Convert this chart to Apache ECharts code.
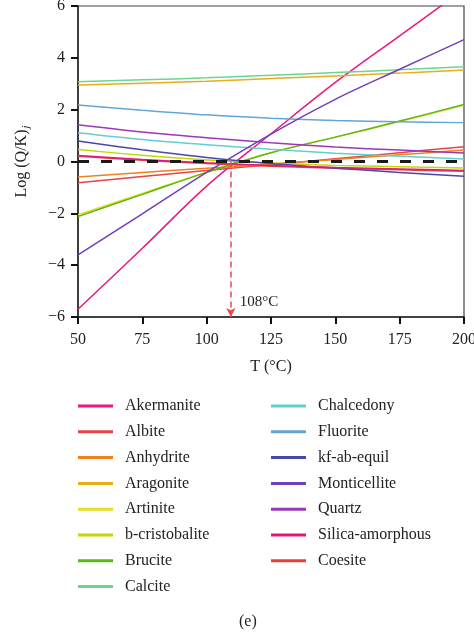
<!DOCTYPE html>
<html>
<head>
<meta charset="utf-8">
<script src="https://cdn.jsdelivr.net/npm/echarts@6/dist/echarts.min.js"></script>
<style>
  html, body { margin: 0; padding: 0; background: #fff; }
  #main { width: 474px; height: 639px; }
</style>
</head>
<body>
<div id="main"></div>
<script>
var temps = [50, 75, 100, 125, 150, 175, 200]
var xTicks = [50, 75, 100, 125, 150, 175, 200]
var yTicks = [-6, -4, -2, 0, 2, 4, 6]

var akermanite = [-5.7, -3.35, -0.95, 1.07, 3.05, 4.85, 6.65]
var albite = [-0.82, -0.58, -0.35, -0.12, 0.11, 0.34, 0.57]
var anhydrite = [-0.6, -0.42, -0.26, -0.1, 0.08, 0.26, 0.44]
var aragonite = [2.95, 3.02, 3.1, 3.2, 3.3, 3.41, 3.53]
var artinite = [-2.05, -1.23, -0.41, 0.34, 0.94, 1.54, 2.18]
var bCristobalite = [0.46, 0.24, 0.06, -0.06, -0.15, -0.2, -0.25]
var brucite = [-2.12, -1.27, -0.42, 0.34, 0.94, 1.56, 2.2]
var calcite = [3.08, 3.15, 3.23, 3.33, 3.43, 3.54, 3.66]
var chalcedony = [1.11, 0.85, 0.65, 0.47, 0.32, 0.2, 0.1]
var fluorite = [2.18, 1.98, 1.8, 1.67, 1.58, 1.53, 1.5]
var kfAbEquil = [0.79, 0.45, 0.15, -0.08, -0.26, -0.42, -0.57]
var monticellite = [-3.6, -2.02, -0.42, 1.06, 2.4, 3.56, 4.7]
var quartz = [1.42, 1.14, 0.92, 0.72, 0.56, 0.44, 0.33]
var silicaAmorphous = [0.23, 0.08, -0.05, -0.15, -0.23, -0.29, -0.35]
var coesite = [0.2, 0.05, -0.08, -0.18, -0.26, -0.32, -0.38]

var crossT = 109.4 // where the dashed red arrow sits
var crossLabel = '108°C'

var names = ['Akermanite', 'Albite', 'Anhydrite', 'Aragonite', 'Artinite', 'b-cristobalite', 'Brucite', 'Calcite',
  'Chalcedony', 'Fluorite', 'kf-ab-equil', 'Monticellite', 'Quartz', 'Silica-amorphous', 'Coesite']
var values = [akermanite, albite, anhydrite, aragonite, artinite, bCristobalite, brucite, calcite,
  chalcedony, fluorite, kfAbEquil, monticellite, quartz, silicaAmorphous, coesite]
var colors = ['#e8197f', '#e84444', '#f0801e', '#e8ae1c', '#e6dc22', '#c2d800', '#5cb814', '#6cd690',
  '#62cfd0', '#62a6d8', '#4848a8', '#7040b8', '#9c38b8', '#e01880', '#e8403a']

// draw order: coesite / artinite under their look-alikes
var drawOrder = [14, 4, 0, 1, 2, 3, 5, 6, 7, 8, 9, 10, 11, 12, 13]

var font = 'Liberation Serif'
var series = drawOrder.map(function (i) {
  return {
    name: names[i],
    type: 'line',
    smooth: 0.35,
    symbol: 'none',
    z: 3,
    lineStyle: { width: 1.5, color: colors[i] },
    itemStyle: { color: colors[i] },
    data: temps.map(function (t, k) { return [t, values[i][k]] })
  }
})

// zero line + arrow marker
series.push({
  name: 'ref',
  type: 'line',
  data: [],
  z: 10,
  silent: true,
  markLine: {
    silent: true,
    symbol: ['none', 'none'],
    label: { show: false },
    data: [
      { yAxis: 0, lineStyle: { color: '#1a1a1a', width: 2.8, type: [11, 12] } }
    ]
  }
})
series.push({
  name: 'arrow',
  type: 'line',
  data: [],
  z: 11,
  silent: true,
  markLine: {
    silent: true,
    symbol: ['none', 'arrow'],
    symbolSize: [7, 9],
    label: { show: false },
    data: [[
      { coord: [crossT, 0], lineStyle: { color: '#e84a4a', width: 1.5, type: [6, 4] } },
      { coord: [crossT, -6] }
    ]]
  },
  markPoint: {
    symbol: 'circle',
    symbolSize: 0,
    label: {
      show: true,
      formatter: crossLabel,
      position: 'right',
      offset: [4, -15],
      color: '#222',
      fontFamily: font,
      fontSize: 15
    },
    data: [{ coord: [crossT, -6] }]
  }
})

var myChart = echarts.init(document.getElementById('main'))
var legendText = { fontFamily: font, fontSize: 16, color: '#222', lineHeight: 16, padding: [0, 0, 0, 7] }

var option = {
  animation: false,
  title: {
    text: '(e)',
    left: 234,
    top: 609,
    textStyle: { fontFamily: font, fontSize: 16, fontWeight: 'normal', color: '#222' }
  },
  grid: {
    left: 78,
    right: 10,
    top: 6,
    bottom: 322,
    outerBoundsMode: 'none',
    show: true,
    borderColor: '#444',
    borderWidth: 1.2
  },
  legend: [{
    data: names.slice(0, 8),
    orient: 'vertical',
    left: 78,
    top: 398,
    padding: 0,
    itemWidth: 35,
    itemHeight: 3,
    itemGap: 9.8,
    icon: 'rect',
    textStyle: legendText
  }, {
    data: names.slice(8),
    orient: 'vertical',
    left: 271,
    top: 398,
    padding: 0,
    itemWidth: 35,
    itemHeight: 3,
    itemGap: 9.8,
    icon: 'rect',
    textStyle: legendText
  }],
  xAxis: {
    type: 'value',
    min: xTicks[0],
    max: xTicks[xTicks.length - 1],
    interval: 25,
    name: 'T (°C)',
    nameLocation: 'middle',
    nameGap: 42,
    nameTextStyle: { fontFamily: font, fontSize: 16, color: '#222' },
    axisLine: { onZero: false, lineStyle: { color: '#222', width: 1.5 } },
    axisTick: { inside: false, length: 7, lineStyle: { color: '#111', width: 2 } },
    axisLabel: { fontFamily: font, fontSize: 16, color: '#222', margin: 15 },
    splitLine: { show: false }
  },
  yAxis: {
    type: 'value',
    min: yTicks[0],
    max: yTicks[yTicks.length - 1],
    interval: 2,
    name: '{a|Log (Q/K)}{b|j}',
    nameLocation: 'middle',
    nameGap: 46,
    nameTextStyle: {
      rich: {
        a: { fontFamily: font, fontSize: 16, color: '#222' },
        b: { fontFamily: font, fontSize: 11, fontStyle: 'italic', color: '#222', padding: [10, 0, 0, 1] }
      }
    },
    axisLine: { onZero: false, lineStyle: { color: '#222', width: 1.5 } },
    axisTick: { inside: false, length: 7, lineStyle: { color: '#111', width: 2 } },
    axisLabel: {
      fontFamily: font, fontSize: 16, color: '#222', margin: 13,
      formatter: function (v) { return String(v).replace('-', '\u2212') }
    },
    splitLine: { show: false }
  },
  series: series
}

myChart.setOption(option)
</script>
</body>
</html>
